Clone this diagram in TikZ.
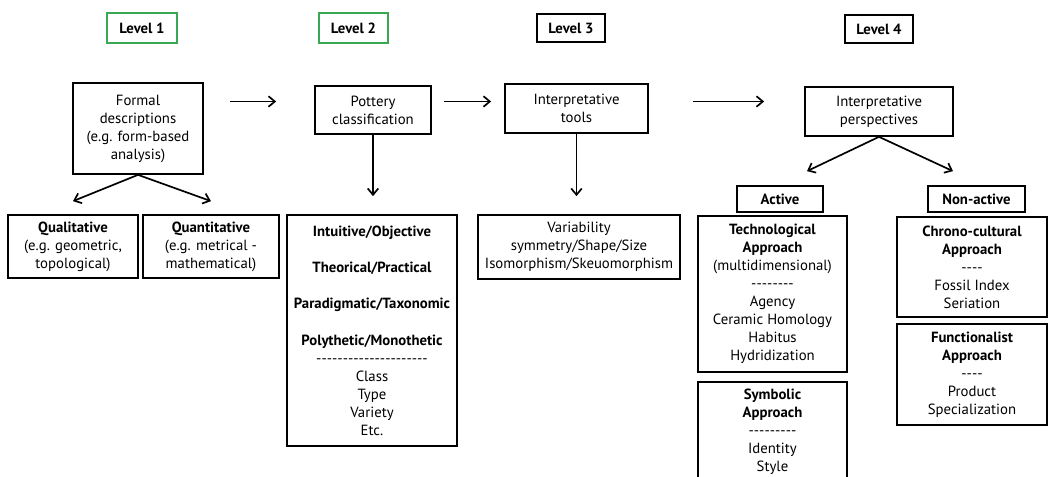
\documentclass[tikz,border=0pt]{standalone}
\usepackage{fontspec}
\setmainfont{PT Sans}
\usetikzlibrary{positioning,arrows.meta}

\definecolor{lvlgreen}{RGB}{56,168,84}
\newcommand{\dashes}[1]{\foreach\x in {1,...,#1}{-}}

\begin{document}
\begin{tikzpicture}[%
  x=0.025cm,
  y=-0.025cm,
  >={Straight Barb[length=4.5pt,width=7.5pt]},
  font=\fontsize{10.5}{12.8}\selectfont,
  box/.style={
    draw,
    line width=1.2pt,
    align=center,
    inner sep=2pt,},
  lvl/.style={
    box,
    font=\fontsize{10.5}{12.8}\selectfont\bfseries,
    minimum width=1.7cm,
    minimum height=0.7cm,},
  lvlbox/.style={
    lvl,
    draw=lvlgreen,
    line width=1.8pt,
    minimum height=0.75cm,},
  pil/.style={
    ->,
    line width=1.2pt,}
  ]
  \useasboundingbox (0,0) rectangle (1048,477);
  \clip (0,0) rectangle (1048,477);
  %% Nodes
  \node[lvlbox, minimum width=1.75cm] (L1) at (142,28) {Level 1};
  \node[lvlbox, minimum width=1.725cm] (L2) at (353.5,28) {Level 2};
  \node[lvl] (L3) at (571,28) {Level 3};
  \node[lvl] (L4) at (879,29) {Level 4};

  \node[box, minimum width=3.25cm, minimum height=2.275cm] (FD) at (138,128.5)
    {Formal\\descriptions\\(e.g. form-based\\analysis)};
  \node[box, minimum width=2.9cm, minimum height=1.2cm] (PC) at (373,110)
    {Pottery\\classification};
  \node[box, minimum width=3.575cm, minimum height=1.225cm] (IT) at (576.5,108.5)
    {Interpretative\\tools};
  \node[box, minimum width=3.7cm, minimum height=1.225cm] (IP) at (879,111.5)
    {Interpretative\\perspectives};

  \node[box, minimum width=3.25cm, minimum height=1.575cm] (QL) at (73,246.5)
    {\textbf{Qualitative}\\(e.g. geometric,\\topological)};
  \node[box, minimum width=3.4cm, minimum height=1.575cm] (QN) at (211,246.5)
    {\textbf{Quantitative}\\(e.g. metrical -\\mathematical)};
  \node[box, minimum width=4.25cm, minimum height=5.775cm] (PB) at (372,330.5)
    {\textbf{Intuitive/Objective}\\[13pt]
     \textbf{Theorical/Practical}\\[13pt]
     \textbf{Paradigmatic/Taxonomic}\\[13pt]
     \textbf{Polythetic/Monothetic}\\
     \dashes{21}\\Class\\Type\\Variety\\Etc.};
  \node[box, minimum width=5.05cm, minimum height=1.6cm] (VA) at (579,247)
    {Variability\\symmetry/Shape/Size\\Isomorphism/Skeuomorphism};

  \node[box, minimum width=2.15cm, minimum height=0.65cm] (AC) at (780,199)
    {\textbf{Active}};
  \node[box, minimum width=2.425cm, minimum height=0.65cm] (NA) at (976.5,199)
    {\textbf{Non-active}};
  \node[box, minimum width=3.725cm, minimum height=3.9cm] (TA) at (772.5,294)
    {\textbf{Technological}\\\textbf{Approach}\\(multidimensional)\\\dashes{8}\\
     Agency\\Ceramic Homology\\Habitus\\Hydridization};
  \node[box, minimum width=3.725cm, minimum height=2.475cm, anchor=north] (SA) at (772.5,381)
    {\textbf{Symbolic}\\\textbf{Approach}\\\dashes{9}\\Identity\\Style};
  \node[box, minimum width=3.75cm, minimum height=2.5cm] (CC) at (972,267)
    {\textbf{Chrono-cultural}\\\textbf{Approach}\\\dashes{4}\\Fossil Index\\Seriation};
  \node[box, minimum width=3.75cm, minimum height=2.525cm] (FA) at (972,374.5)
    {\textbf{Functionalist}\\\textbf{Approach}\\\dashes{4}\\Product\\Specialization};

  %% Edges
  \coordinate (row) at (0,101.5);
  \draw[pil, shorten <=0.65cm, shorten >=0.95cm] (FD.east |- row) -- (PC.west |- row);
  \draw[pil, shorten <=0.3cm, shorten >=0.325cm] (PC.east |- row) -- (IT.west |- row);
  \draw[pil, shorten <=1.1cm, shorten >=1cm] (IT.east |- row) -- (IP.west |- row);
  \draw[pil, shorten >=0.45cm] (PC.south) -- (PC.south |- PB.north);
  \draw[pil, shorten >=0.45cm] (IT.south) -- (IT.south |- VA.north);
  \draw[pil] (FD.south) -- ([yshift=0.325cm]QL.north);
  \draw[pil] (FD.south) -- ([yshift=0.325cm]QN.north);
  \draw[pil] (IP.south) -- ([shift={(0.675cm,0.35cm)}]AC.north);
  \draw[pil] (IP.south) -- ([shift={(-0.5875cm,0.35cm)}]NA.north);
\end{tikzpicture}
\end{document}
